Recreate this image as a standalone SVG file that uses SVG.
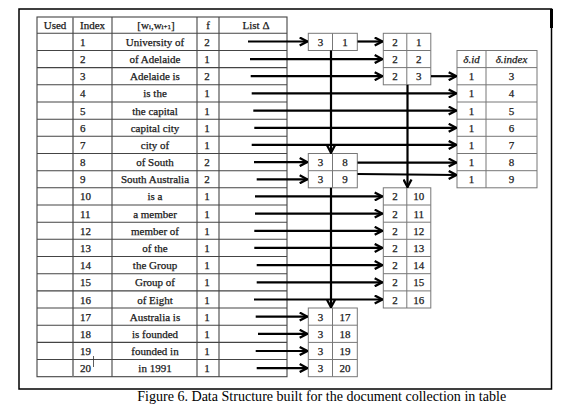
<svg xmlns="http://www.w3.org/2000/svg" width="581" height="417" viewBox="0 0 581 417">
<defs>
<style>
text{font-family:"Liberation Serif","Times New Roman",serif;font-size:11px;fill:#1a1a1a;stroke:#1a1a1a;stroke-width:0.25}
.c{text-anchor:middle;dominant-baseline:central}
.l{text-anchor:start;dominant-baseline:central}
.it{font-style:italic}
.grid{stroke:#444;stroke-width:1.1;fill:none}
.box{stroke:#777;stroke-width:1;fill:#fff}
.conn line{stroke:#000;stroke-width:2.2;marker-end:url(#ah)}
.cap{font-size:14.5px;fill:#000;stroke:none}
</style>
<marker id="ah" viewBox="0 0 10 10" refX="9.3" refY="5" markerWidth="10" markerHeight="10" markerUnits="userSpaceOnUse" orient="auto">
<path d="M1.5,1 L9,5 L1.5,9" fill="none" stroke="#000" stroke-width="2.3" stroke-linejoin="miter"/>
</marker>
</defs>
<rect width="581" height="417" fill="#fff"/>
<g id="frame">
<rect x="19" y="9" width="532.5" height="380" fill="none" stroke="#000" stroke-width="1.5"/>
<line x1="551.5" y1="9" x2="551.5" y2="28" stroke="#000" stroke-width="3"/>
</g>

<g id="main-table">
<rect class="grid" x="37" y="17" width="250" height="359.7"/>
<line class="grid" x1="73" y1="17" x2="73" y2="376.7" style="stroke:#777;stroke-width:1.6"/>
<line class="grid" x1="112" y1="17" x2="112" y2="376.7"/>
<line class="grid" x1="197" y1="17" x2="197" y2="376.7"/>
<line class="grid" x1="219" y1="17" x2="219" y2="376.7"/>
<path class="grid" d="M37,33.3H287M37,50.5H287M37,67.6H287M37,84.8H287M37,102H287M37,119.2H287M37,136.3H287M37,153.5H287M37,170.7H287M37,187.8H287M37,205H287M37,222.2H287M37,239.3H287M37,256.5H287M37,273.7H287M37,290.9H287M37,308H287M37,325.2H287M37,342.4H287M37,359.5H287"/>
<text class="c" x="55" y="25.2">Used</text>
<text class="l" x="80" y="25.2">Index</text>
<text class="c" x="156" y="25.2">[w<tspan font-size="7" dy="2">i</tspan><tspan dy="-2">,w</tspan><tspan font-size="7" dy="2">i+1</tspan><tspan dy="-2">]</tspan></text>
<text class="c" x="208" y="25.2">f</text>
<text class="c" x="256" y="25.2">List Δ</text>
<g class="idx">
<text class="l" x="80" y="41.9">1</text>
<text class="l" x="80" y="59.1">2</text>
<text class="l" x="80" y="76.2">3</text>
<text class="l" x="80" y="93.4">4</text>
<text class="l" x="80" y="110.6">5</text>
<text class="l" x="80" y="127.8">6</text>
<text class="l" x="80" y="144.9">7</text>
<text class="l" x="80" y="162.1">8</text>
<text class="l" x="80" y="179.3">9</text>
<text class="l" x="80" y="196.4">10</text>
<text class="l" x="80" y="213.6">11</text>
<text class="l" x="80" y="230.8">12</text>
<text class="l" x="80" y="247.9">13</text>
<text class="l" x="80" y="265.1">14</text>
<text class="l" x="80" y="282.3">15</text>
<text class="l" x="80" y="299.5">16</text>
<text class="l" x="80" y="316.6">17</text>
<text class="l" x="80" y="333.8">18</text>
<text class="l" x="80" y="351">19</text>
<text class="l" x="80" y="368.1">20</text>
</g>
<line x1="93.5" y1="356" x2="93.5" y2="367" stroke="#333" stroke-width="0.8"/>
<g class="phr">
<text class="c" x="155" y="41.9">University of</text>
<text class="c" x="155" y="59.1">of Adelaide</text>
<text class="c" x="155" y="76.2">Adelaide is</text>
<text class="c" x="155" y="93.4">is the</text>
<text class="c" x="155" y="110.6">the capital</text>
<text class="c" x="155" y="127.8">capital city</text>
<text class="c" x="155" y="144.9">city of</text>
<text class="c" x="155" y="162.1">of South</text>
<text class="c" x="155" y="179.3">South Australia</text>
<text class="c" x="155" y="196.4">is a</text>
<text class="c" x="155" y="213.6">a member</text>
<text class="c" x="155" y="230.8">member of</text>
<text class="c" x="155" y="247.9">of the</text>
<text class="c" x="155" y="265.1">the Group</text>
<text class="c" x="155" y="282.3">Group of</text>
<text class="c" x="155" y="299.5">of Eight</text>
<text class="c" x="155" y="316.6">Australia is</text>
<text class="c" x="155" y="333.8">is founded</text>
<text class="c" x="155" y="351">founded in</text>
<text class="c" x="155" y="368.1">in 1991</text>
</g>
<g class="f">
<text class="c" x="207" y="41.9">2</text>
<text class="c" x="207" y="59.1">1</text>
<text class="c" x="207" y="76.2">2</text>
<text class="c" x="207" y="93.4">1</text>
<text class="c" x="207" y="110.6">1</text>
<text class="c" x="207" y="127.8">1</text>
<text class="c" x="207" y="144.9">1</text>
<text class="c" x="207" y="162.1">2</text>
<text class="c" x="207" y="179.3">2</text>
<text class="c" x="207" y="196.4">1</text>
<text class="c" x="207" y="213.6">1</text>
<text class="c" x="207" y="230.8">1</text>
<text class="c" x="207" y="247.9">1</text>
<text class="c" x="207" y="265.1">1</text>
<text class="c" x="207" y="282.3">1</text>
<text class="c" x="207" y="299.5">1</text>
<text class="c" x="207" y="316.6">1</text>
<text class="c" x="207" y="333.8">1</text>
<text class="c" x="207" y="351">1</text>
<text class="c" x="207" y="368.1">1</text>
</g>
</g>

<g id="node-3-1">
<rect class="box" x="308.3" y="33.3" width="49" height="17.2"/>
<line class="box" x1="332.5" y1="33.3" x2="332.5" y2="50.5"/>
<text class="c" x="320.4" y="41.9">3</text>
<text class="c" x="344.9" y="41.9">1</text>
</g>

<g id="node-2-1-3">
<rect class="box" x="383.3" y="33.3" width="47.5" height="51.5"/>
<line class="box" x1="406.8" y1="33.3" x2="406.8" y2="84.8"/>
<line class="box" x1="383.3" y1="50.5" x2="430.8" y2="50.5"/>
<line class="box" x1="383.3" y1="67.6" x2="430.8" y2="67.6"/>
<text class="c" x="395" y="41.9">2</text><text class="c" x="418.8" y="41.9">1</text>
<text class="c" x="395" y="59.1">2</text><text class="c" x="418.8" y="59.1">2</text>
<text class="c" x="395" y="76.2">2</text><text class="c" x="418.8" y="76.2">3</text>
</g>

<g id="delta-table">
<rect class="box" x="457" y="50.5" width="80" height="137.3"/>
<line class="box" x1="486" y1="50.5" x2="486" y2="187.8"/>
<path class="box" d="M457,67.6H537M457,84.8H537M457,102H537M457,119.2H537M457,136.3H537M457,153.5H537M457,170.7H537"/>
<text class="c it" x="471.5" y="59.1">δ.id</text>
<text class="c it" x="511.5" y="59.1">δ.index</text>
<text class="c" x="471.5" y="76.2">1</text><text class="c" x="511.5" y="76.2">3</text>
<text class="c" x="471.5" y="93.4">1</text><text class="c" x="511.5" y="93.4">4</text>
<text class="c" x="471.5" y="110.6">1</text><text class="c" x="511.5" y="110.6">5</text>
<text class="c" x="471.5" y="127.8">1</text><text class="c" x="511.5" y="127.8">6</text>
<text class="c" x="471.5" y="144.9">1</text><text class="c" x="511.5" y="144.9">7</text>
<text class="c" x="471.5" y="162.1">1</text><text class="c" x="511.5" y="162.1">8</text>
<text class="c" x="471.5" y="179.3">1</text><text class="c" x="511.5" y="179.3">9</text>
</g>

<g id="node-3-8-9">
<rect class="box" x="308.3" y="153.5" width="49" height="34.3"/>
<line class="box" x1="332.5" y1="153.5" x2="332.5" y2="187.8"/>
<line class="box" x1="308.3" y1="170.7" x2="357.3" y2="170.7"/>
<text class="c" x="320.4" y="162.1">3</text><text class="c" x="344.9" y="162.1">8</text>
<text class="c" x="320.4" y="179.3">3</text><text class="c" x="344.9" y="179.3">9</text>
</g>

<g id="node-2-10-16">
<rect class="box" x="383.3" y="187.8" width="47.5" height="120.2"/>
<line class="box" x1="406.8" y1="187.8" x2="406.8" y2="308"/>
<path class="box" d="M383.3,205H430.8M383.3,222.2H430.8M383.3,239.3H430.8M383.3,256.5H430.8M383.3,273.7H430.8M383.3,290.9H430.8"/>
<text class="c" x="395" y="196.4">2</text><text class="c" x="418.8" y="196.4">10</text>
<text class="c" x="395" y="213.6">2</text><text class="c" x="418.8" y="213.6">11</text>
<text class="c" x="395" y="230.8">2</text><text class="c" x="418.8" y="230.8">12</text>
<text class="c" x="395" y="247.9">2</text><text class="c" x="418.8" y="247.9">13</text>
<text class="c" x="395" y="265.1">2</text><text class="c" x="418.8" y="265.1">14</text>
<text class="c" x="395" y="282.3">2</text><text class="c" x="418.8" y="282.3">15</text>
<text class="c" x="395" y="299.5">2</text><text class="c" x="418.8" y="299.5">16</text>
</g>

<g id="node-3-17-20">
<rect class="box" x="308.3" y="308" width="49" height="68.7"/>
<line class="box" x1="332.5" y1="308" x2="332.5" y2="376.7"/>
<path class="box" d="M308.3,325.2H357.3M308.3,342.4H357.3M308.3,359.5H357.3"/>
<text class="c" x="320.4" y="316.6">3</text><text class="c" x="344.9" y="316.6">17</text>
<text class="c" x="320.4" y="333.8">3</text><text class="c" x="344.9" y="333.8">18</text>
<text class="c" x="320.4" y="351">3</text><text class="c" x="344.9" y="351">19</text>
<text class="c" x="320.4" y="368.1">3</text><text class="c" x="344.9" y="368.1">20</text>
</g>

<g id="connectors" class="conn">
<line x1="248" y1="41.5" x2="307.5" y2="41.5"/>
<line x1="250" y1="59.1" x2="382.5" y2="59.1"/>
<line x1="250.7" y1="76.2" x2="382.5" y2="76.2"/>
<line x1="251.7" y1="93.4" x2="456.5" y2="93.4"/>
<line x1="253.3" y1="110.6" x2="456.5" y2="110.6"/>
<line x1="254.3" y1="127.8" x2="456.5" y2="127.8"/>
<line x1="251.7" y1="144.9" x2="456.5" y2="144.9"/>
<line x1="254" y1="162.1" x2="307.5" y2="162.1"/>
<line x1="256.7" y1="179.3" x2="307.5" y2="179.3"/>
<line x1="255" y1="196.4" x2="382.5" y2="196.4"/>
<line x1="255" y1="213.6" x2="382.5" y2="213.6"/>
<line x1="254.3" y1="230.8" x2="382.5" y2="230.8"/>
<line x1="254.3" y1="247.9" x2="382.5" y2="247.9"/>
<line x1="256.7" y1="265.1" x2="382.5" y2="265.1"/>
<line x1="256.7" y1="282.3" x2="382.5" y2="282.3"/>
<line x1="254" y1="299.5" x2="382.5" y2="299.5"/>
<line x1="255.7" y1="316.6" x2="307.5" y2="316.6"/>
<line x1="258" y1="333.8" x2="307.5" y2="333.8"/>
<line x1="255.7" y1="351" x2="307.5" y2="351"/>
<line x1="256.7" y1="368.1" x2="307.5" y2="368.1"/>
<line x1="357.5" y1="41.5" x2="382.5" y2="41.5"/>
<line x1="431" y1="76.2" x2="456.5" y2="76.2"/>
<line x1="357.5" y1="162.6" x2="456.5" y2="162.6"/>
<line x1="357.5" y1="174" x2="456.5" y2="175"/>
<line x1="331" y1="50.5" x2="331" y2="153"/>
<line x1="331" y1="187.8" x2="331" y2="307.5"/>
<line x1="407.5" y1="84.8" x2="407.5" y2="187.3"/>
</g>

<text class="cap" x="321.7" y="401" text-anchor="middle" textLength="369" lengthAdjust="spacingAndGlyphs">Figure 6. Data Structure built for the document collection in table</text>
</svg>
